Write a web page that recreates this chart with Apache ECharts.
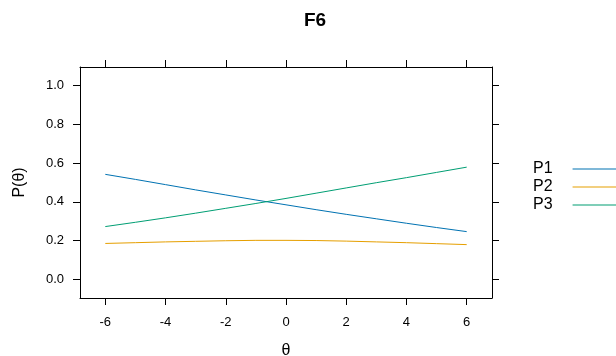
<!DOCTYPE html>
<html>
<head>
<meta charset="utf-8">
<script src="https://cdn.jsdelivr.net/npm/echarts@6/dist/echarts.min.js"></script>
<style>
  html, body { margin: 0; padding: 0; background: #fff; }
  #chart { width: 616px; height: 356px; }
</style>
</head>
<body>
<div id="chart"></div>
<script>
// Category response curves for item F6
const theta = [-6, -5, -4, -3, -2, -1, 0, 1, 2, 3, 4, 5, 6];
const p1 = [0.542, 0.516, 0.489, 0.462, 0.436, 0.410, 0.385, 0.360, 0.336, 0.313, 0.290, 0.268, 0.247];
const p2 = [0.186, 0.190, 0.194, 0.197, 0.200, 0.202, 0.202, 0.201, 0.198, 0.194, 0.190, 0.185, 0.180];
const p3 = [0.273, 0.295, 0.318, 0.342, 0.367, 0.392, 0.418, 0.445, 0.472, 0.499, 0.525, 0.552, 0.579];
const seriesNames = ['P1', 'P2', 'P3'];
const seriesColors = ['#0072B2', '#E69F00', '#009E73'];
const xTicks = [-6, -4, -2, 0, 2, 4, 6];
const yTicks = [0, 0.2, 0.4, 0.6, 0.8, 1.0];

const FONT = '"Liberation Sans", Arial, sans-serif';
const xRange = [-6.84, 6.84];
const yRange = [-0.095, 1.095];

const chart = echarts.init(document.getElementById('chart'), null, { renderer: 'canvas' });

function pairs(ys) { return theta.map((t, i) => [t, ys[i]]); }

const lineAxis = { show: true, onZero: false, lineStyle: { color: '#000', width: 1 } };
const tickStyle = { lineStyle: { color: '#000', width: 1 }, length: 7, inside: false };

chart.setOption({
  animation: false,
  backgroundColor: '#fff',
  title: {
    text: 'F6',
    left: 299,
    top: 6,
    textStyle: { fontFamily: FONT, fontSize: 19, fontWeight: 'bold', color: '#000' }
  },
  legend: {
    orient: 'vertical',
    left: 528,
    top: 155,
    align: 'right',
    icon: 'rect',
    itemWidth: 45,
    itemHeight: 1,
    itemGap: 0,
    data: seriesNames,
    textStyle: { fontFamily: FONT, fontSize: 16, lineHeight: 18, color: '#000', padding: [0, 15, 0, 0] }
  },
  grid: { left: 80, top: 67, width: 412, height: 231, containLabel: false, outerBoundsMode: 'none' },
  xAxis: [
    {
      type: 'value', min: xRange[0], max: xRange[1], position: 'bottom',
      name: 'θ', nameLocation: 'middle', nameGap: 45,
      nameTextStyle: { fontFamily: FONT, fontSize: 16, color: '#000' },
      axisLine: lineAxis,
      axisTick: Object.assign({ customValues: xTicks }, tickStyle),
      axisLabel: { customValues: xTicks, margin: 18, fontFamily: FONT, fontSize: 13, color: '#000' },
      splitLine: { show: false }
    },
    {
      type: 'value', min: xRange[0], max: xRange[1], position: 'top',
      axisLine: lineAxis,
      axisTick: Object.assign({ customValues: xTicks }, tickStyle),
      axisLabel: { show: false },
      splitLine: { show: false }
    }
  ],
  yAxis: [
    {
      type: 'value', min: yRange[0], max: yRange[1], position: 'left',
      name: 'P(θ)', nameLocation: 'middle', nameGap: 52, nameRotate: 90,
      nameTextStyle: { fontFamily: FONT, fontSize: 16, color: '#000' },
      axisLine: lineAxis,
      axisTick: Object.assign({ customValues: yTicks }, tickStyle),
      axisLabel: {
        customValues: yTicks, margin: 16, fontFamily: FONT, fontSize: 13, color: '#000',
        formatter: v => v.toFixed(1)
      },
      splitLine: { show: false }
    },
    {
      type: 'value', min: yRange[0], max: yRange[1], position: 'right',
      axisLine: lineAxis,
      axisTick: Object.assign({ customValues: yTicks }, tickStyle),
      axisLabel: { show: false },
      splitLine: { show: false }
    }
  ],
  series: [p1, p2, p3].map((ys, i) => ({
    name: seriesNames[i],
    type: 'line',
    xAxisIndex: 0,
    yAxisIndex: 0,
    data: pairs(ys),
    symbol: 'none',
    smooth: false,
    color: seriesColors[i],
    lineStyle: { color: seriesColors[i], width: 1 }
  }))
});
</script>
</body>
</html>
